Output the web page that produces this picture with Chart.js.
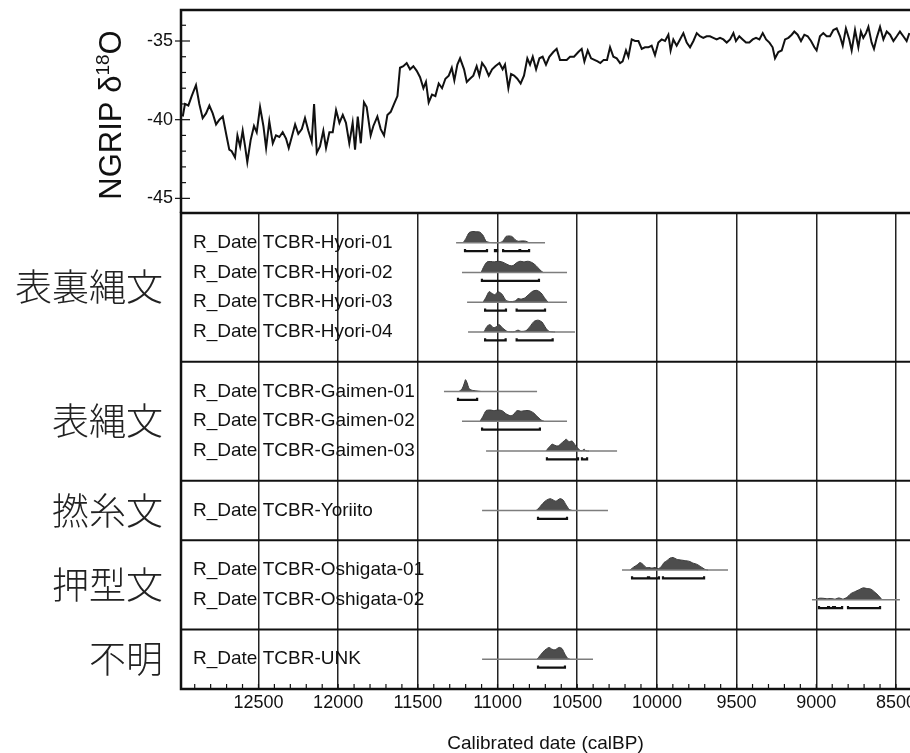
<!DOCTYPE html>
<html>
<head>
<meta charset="utf-8">
<script src="https://cdn.jsdelivr.net/npm/chart.js@4.4.0/dist/chart.umd.min.js"></script>
<style>
  html, body { margin: 0; padding: 0; background: #fff; }
  #wrap { position: relative; width: 910px; height: 753px; overflow: hidden; }
  #wrap canvas { position: absolute; left: 0; top: 0; }
</style>
</head>
<body>
<div id="wrap">
  <canvas id="ngripChart" width="910" height="753"></canvas>
  <canvas id="dateChart" width="910" height="753"></canvas>
</div>
<script>
// NGRIP d18O record (age calBP / permil)
const ngripAge = [
  12975, 12961, 12940, 12919, 12892, 12871, 12850, 12829, 12808, 12787,
  12766, 12745, 12724, 12699, 12683, 12668, 12647, 12632, 12615, 12599,
  12584, 12570, 12549, 12528, 12511, 12490, 12469, 12452, 12432, 12410,
  12390, 12369, 12348, 12327, 12310, 12291, 12270, 12250, 12228, 12208,
  12187, 12166, 12151, 12134, 12114, 12093, 12076, 12055, 12034, 12013,
  11992, 11971, 11951, 11930, 11909, 11894, 11877, 11858, 11838, 11821,
  11796, 11779, 11754, 11733, 11712, 11691, 11670, 11649, 11628, 11612,
  11591, 11570, 11549, 11528, 11507, 11486, 11465, 11449, 11432, 11411,
  11390, 11369, 11348, 11327, 11306, 11287, 11271, 11252, 11235, 11210,
  11193, 11173, 11152, 11131, 11114, 11097, 11076, 11055, 11034, 11014,
  10988, 10968, 10953, 10932, 10915, 10896, 10876, 10855, 10834, 10813,
  10796, 10779, 10758, 10737, 10717, 10696, 10675, 10650, 10629, 10608,
  10587, 10566, 10545, 10520, 10493, 10472, 10455, 10434, 10413, 10392,
  10372, 10355, 10334, 10313, 10294, 10273, 10252, 10231, 10215, 10194,
  10179, 10158, 10137, 10116, 10095, 10075, 10054, 10033, 10012, 9991,
  9970, 9949, 9928, 9914, 9897, 9876, 9855, 9834, 9813, 9792,
  9771, 9750, 9730, 9709, 9688, 9667, 9646, 9625, 9604, 9583,
  9562, 9541, 9520, 9504, 9483, 9462, 9441, 9420, 9399, 9378,
  9357, 9336, 9315, 9294, 9274, 9259, 9238, 9217, 9196, 9175,
  9154, 9138, 9117, 9096, 9075, 9054, 9033, 9012, 8998, 8977,
  8956, 8935, 8914, 8893, 8872, 8851, 8834, 8814, 8793, 8778,
  8757, 8736, 8720, 8705, 8688, 8673, 8653, 8638, 8621, 8600,
  8579, 8558, 8537, 8516, 8495, 8475, 8454, 8433, 8416
];
const ngripD18O = [
  -39.8, -39.0, -39.1, -38.5, -37.8, -39.0, -39.9, -39.6, -39.1, -39.6,
  -40.3, -40.0, -39.8, -41.1, -41.9, -42.0, -42.4, -41.0, -41.7, -40.7,
  -41.7, -42.7, -41.3, -40.4, -40.8, -39.2, -40.4, -41.8, -40.1, -41.5,
  -41.0, -41.1, -40.8, -41.2, -41.8, -41.1, -40.3, -40.9, -40.6, -39.9,
  -40.7, -41.4, -39.0, -42.1, -41.7, -40.7, -41.8, -40.8, -40.8, -39.4,
  -40.2, -39.7, -40.2, -41.5, -40.2, -41.9, -39.8, -41.5, -38.9, -39.2,
  -41.0, -40.4, -39.8, -40.6, -41.0, -39.7, -39.5, -39.0, -38.5, -36.7,
  -36.6, -36.4, -36.8, -36.6, -36.9, -37.3, -38.0, -37.6, -38.9, -38.4,
  -38.5, -37.7, -38.0, -37.4, -37.2, -36.7, -37.5, -36.5, -36.1, -36.8,
  -37.6, -37.4, -37.2, -36.6, -37.2, -36.4, -36.7, -37.2, -36.8, -36.6,
  -36.4, -36.8, -36.5, -38.0, -37.1, -37.2, -37.4, -37.7, -37.2, -36.1,
  -36.5, -36.0, -36.8, -36.1, -36.0, -36.5, -36.0, -35.7, -35.5, -36.2,
  -36.2, -36.2, -36.0, -36.0, -35.7, -35.5, -36.3, -35.6, -36.1, -36.2,
  -36.3, -36.4, -36.2, -36.2, -35.4, -36.0, -36.1, -36.4, -36.3, -35.6,
  -36.0, -34.9, -35.0, -35.0, -35.5, -35.4, -35.4, -35.3, -35.9, -35.1,
  -34.9, -35.0, -34.6, -35.6, -34.9, -35.3, -34.9, -34.5, -35.1, -35.4,
  -35.0, -34.5, -34.7, -34.8, -34.7, -34.7, -34.8, -34.9, -34.8, -34.9,
  -35.1, -34.9, -34.5, -35.0, -34.7, -34.9, -35.1, -35.1, -34.9, -34.8,
  -34.9, -34.5, -34.9, -35.1, -35.4, -36.1, -35.7, -35.6, -34.9, -34.8,
  -34.6, -34.4, -34.6, -35.0, -34.6, -34.7, -35.0, -35.4, -35.6, -34.7,
  -34.5, -34.7, -34.7, -34.3, -34.2, -34.7, -35.3, -34.2, -34.9, -35.6,
  -34.3, -35.4, -34.4, -34.8, -34.5, -34.1, -35.1, -35.5, -34.8, -34.1,
  -34.9, -34.4, -34.6, -35.0, -34.7, -34.4, -34.7, -35.0, -34.5
];
const d18oTicks = [-45, -40, -35];
const ageTicks = [12500, 12000, 11500, 11000, 10500, 10000, 9500, 9000, 8500];

// radiocarbon dates
const groupNames = ['表裏縄文', '表縄文', '撚糸文', '押型文', '不明'];
const sampleNames = ['TCBR-Hyori-01', 'TCBR-Hyori-02', 'TCBR-Hyori-03', 'TCBR-Hyori-04',
  'TCBR-Gaimen-01', 'TCBR-Gaimen-02', 'TCBR-Gaimen-03', 'TCBR-Yoriito',
  'TCBR-Oshigata-01', 'TCBR-Oshigata-02', 'TCBR-UNK'];
const sampleGroup = [0, 0, 0, 0, 1, 1, 1, 2, 3, 3, 4];
const calSpan = [[11260, 10702], [11223, 10564], [11191, 10564], [11185, 10514],
  [11336, 10752], [11223, 10564], [11072, 10250], [11097, 10307],
  [10219, 9554], [9027, 8475], [11097, 10401]];
const probAge = [
  [11216, 11198, 11179, 11160, 11135, 11110, 11091, 11072, 11047, 10984, 10965, 10947, 10928, 10909, 10890, 10871, 10846, 10821, 10802],
  [11103, 11085, 11066, 11041, 11022, 10997, 10972, 10947, 10922, 10903, 10878, 10859, 10834, 10809, 10784, 10758, 10733, 10714],
  [11091, 11072, 11053, 11034, 11016, 10997, 10972, 10947, 10922, 10890, 10871, 10853, 10828, 10802, 10777, 10752, 10727, 10702, 10683],
  [11085, 11066, 11047, 11028, 11010, 10991, 10966, 10940, 10896, 10871, 10853, 10821, 10796, 10771, 10746, 10721, 10696, 10677, 10639],
  [11242, 11223, 11210, 11201, 11191, 11179, 11160, 11135, 11103],
  [11110, 11091, 11072, 11047, 11022, 10997, 10972, 10947, 10922, 10903, 10878, 10853, 10828, 10802, 10777, 10752, 10727, 10708],
  [10696, 10677, 10658, 10639, 10620, 10601, 10583, 10570, 10551, 10532, 10514, 10495, 10482, 10470, 10457, 10445, 10426],
  [10758, 10740, 10721, 10696, 10670, 10652, 10633, 10608, 10589, 10570, 10551, 10532],
  [10169, 10144, 10125, 10106, 10087, 10068, 10049, 10031, 10012, 9993, 9974, 9955, 9937, 9918, 9899, 9874, 9849, 9824, 9798, 9773, 9748, 9723, 9698, 9679],
  [9002, 8983, 8958, 8933, 8908, 8883, 8858, 8832, 8807, 8782, 8757, 8732, 8707, 8682, 8657, 8632, 8607, 8588],
  [10752, 10733, 10714, 10696, 10677, 10658, 10639, 10614, 10595, 10577, 10558, 10545]
];
const probDensity = [
  [0, 0.35, 0.8, 0.9, 0.88, 0.85, 0.6, 0.12, 0.02, 0.02, 0.15, 0.5, 0.55, 0.5, 0.25, 0.12, 0.15, 0.12, 0],
  [0, 0.5, 0.85, 0.88, 0.85, 0.9, 0.85, 0.7, 0.55, 0.55, 0.8, 0.9, 0.85, 0.9, 0.8, 0.55, 0.2, 0],
  [0, 0.4, 0.85, 0.7, 0.6, 0.85, 0.65, 0.15, 0.05, 0.1, 0.3, 0.25, 0.35, 0.65, 0.9, 0.95, 0.75, 0.3, 0],
  [0, 0.45, 0.6, 0.35, 0.4, 0.6, 0.3, 0.05, 0.02, 0.15, 0.05, 0.1, 0.45, 0.85, 0.95, 0.8, 0.3, 0.05, 0],
  [0, 0.2, 0.6, 0.95, 0.7, 0.25, 0.1, 0.05, 0],
  [0, 0.4, 0.85, 0.9, 0.85, 0.9, 0.85, 0.6, 0.45, 0.5, 0.85, 0.8, 0.85, 0.85, 0.7, 0.4, 0.1, 0],
  [0, 0.3, 0.55, 0.45, 0.4, 0.6, 0.8, 0.95, 0.75, 0.8, 0.5, 0.2, 0.05, 0.02, 0.15, 0.02, 0],
  [0, 0.2, 0.5, 0.8, 0.95, 0.85, 0.75, 0.95, 0.85, 0.45, 0.1, 0],
  [0, 0.25, 0.4, 0.6, 0.45, 0.2, 0.2, 0.15, 0.2, 0.1, 0.25, 0.6, 0.75, 0.95, 1.0, 0.85, 0.8, 0.75, 0.7, 0.55, 0.45, 0.25, 0.05, 0],
  [0, 0.12, 0.12, 0.08, 0.1, 0.05, 0.15, 0.05, 0.2, 0.5, 0.65, 0.8, 0.95, 0.9, 0.85, 0.6, 0.3, 0],
  [0, 0.3, 0.6, 0.8, 0.95, 0.8, 0.75, 0.95, 0.85, 0.4, 0.05, 0]
];
const hpdRanges = [
  [[11204, 11066], [11016, 11003], [10965, 10862], [10858, 10802]],
  [[11098, 10740]],
  [[11078, 10947], [10880, 10702]],
  [[11078, 10949], [10880, 10654]],
  [[11248, 11128]],
  [[11097, 10734]],
  [[10690, 10495], [10470, 10438]],
  [[10746, 10564]],
  [[10156, 10056], [10049, 9987], [9962, 9704]],
  [[8983, 8926], [8920, 8895], [8883, 8838], [8801, 8600]],
  [[10746, 10577]]
];

// axis limits (x is reversed: old on the left)
const AGE_OLD = 12986, AGE_YOUNG = 8412;
const PEAK = 0.42, BAR = 0.28, HOOK = 0.07;
const LATIN = "'Liberation Sans', Arial, sans-serif";
Chart.defaults.font.family = LATIN;
Chart.defaults.color = '#111';

// row layout: each group gets its rows plus one spare slot
const rowPos = [], groupStart = [], groupCenter = [];
let cursor = 0;
groupNames.forEach((g, gi) => {
  const n = sampleGroup.filter(v => v === gi).length;
  groupStart.push(cursor);
  groupCenter.push(cursor + (n + 1) / 2);
  for (let k = 1; k <= n; k++) rowPos.push(cursor + k);
  cursor += n + 1;
});
const rowMax = cursor;

// no label overhang padding, the frame must sit exactly where the layout puts it
function fixVertical(width) {
  return s => { s.width = width; s.paddingTop = 0; s.paddingBottom = 0; };
}

// ---------- top panel ----------
const ngripDecor = {
  id: 'ngripDecor',
  afterDraw(chart) {
    const {ctx, chartArea: a} = chart;
    const y = chart.scales.y;
    ctx.save();
    ctx.strokeStyle = '#111';
    ctx.lineWidth = 2.5;
    ctx.beginPath();
    ctx.moveTo(a.left, a.bottom); ctx.lineTo(a.left, a.top); ctx.lineTo(a.right, a.top);
    ctx.stroke();
    ctx.lineWidth = 1.2;
    for (let v = Math.ceil(y.min); v <= y.max; v++) {
      const py = y.getPixelForValue(v);
      const major = v % 5 === 0;
      ctx.beginPath();
      ctx.moveTo(major ? a.left - 6 : a.left, py);
      ctx.lineTo(a.left + (major ? 9 : 5), py);
      ctx.stroke();
    }
    // rotated title with superscript
    const main = '31px ' + LATIN, sup = '19px ' + LATIN;
    ctx.fillStyle = '#111';
    ctx.font = main;
    const w1 = ctx.measureText('NGRIP δ').width;
    const w3 = ctx.measureText('O').width;
    ctx.font = sup;
    const w2 = ctx.measureText('18').width;
    const total = w1 + w2 + w3;
    ctx.translate(121, 115 + total / 2);
    ctx.rotate(-Math.PI / 2);
    ctx.textBaseline = 'alphabetic';
    ctx.font = main; ctx.fillText('NGRIP δ', 0, 0);
    ctx.font = sup; ctx.fillText('18', w1, -12);
    ctx.font = main; ctx.fillText('O', w1 + w2, 0);
    ctx.restore();
  }
};

new Chart(document.getElementById('ngripChart'), {
  type: 'line',
  data: {
    datasets: [{
      data: ngripAge.map((a, i) => ({x: a, y: ngripD18O[i]})),
      borderColor: '#111',
      borderWidth: 2,
      pointRadius: 0,
      tension: 0,
      fill: false
    }]
  },
  options: {
    responsive: false,
    animation: false,
    layout: {padding: {top: 10, bottom: 540, left: 0, right: 0}},
    plugins: {legend: {display: false}, tooltip: {enabled: false}},
    scales: {
      x: {type: 'linear', reverse: true, min: AGE_YOUNG, max: AGE_OLD, display: false},
      y: {
        min: -45.93, max: -33.03,
        afterBuildTicks: s => { s.ticks = d18oTicks.map(v => ({value: v})); },
        afterFit: fixVertical(181),
        grid: {display: false, drawTicks: false},
        border: {display: false},
        ticks: {padding: 8, color: '#111', font: {size: 18}}
      }
    }
  },
  plugins: [ngripDecor]
});

// ---------- bottom panel ----------
const datasets = [];
sampleNames.forEach((name, i) => {
  const row = rowPos[i];
  datasets.push({
    data: calSpan[i].map(a => ({x: a, y: row})),
    borderColor: '#7d7d7d', borderWidth: 1.4, pointRadius: 0, fill: false
  });
  datasets.push({
    data: probAge[i].map((a, j) => ({x: a, y: row - probDensity[i][j] * PEAK})),
    borderColor: '#3a3a3a', borderWidth: 1, pointRadius: 0, tension: 0.2,
    backgroundColor: '#4d4d4d', fill: {value: row}
  });
  const pts = [];
  hpdRanges[i].forEach(([a0, a1], k) => {
    if (k) pts.push({x: a0, y: null});
    pts.push({x: a0, y: row + BAR - HOOK}, {x: a0, y: row + BAR},
             {x: a1, y: row + BAR}, {x: a1, y: row + BAR - HOOK});
  });
  datasets.push({
    data: pts, borderColor: '#111', borderWidth: 2.2, pointRadius: 0, fill: false, spanGaps: false
  });
});

const dateDecor = {
  id: 'dateDecor',
  afterDatasetsDraw(chart) {
    const {ctx, chartArea: a} = chart;
    const x = chart.scales.x, y = chart.scales.y;
    ctx.save();
    // sample labels
    ctx.fillStyle = '#111';
    ctx.font = '19px ' + LATIN;
    ctx.textBaseline = 'middle';
    ctx.textAlign = 'left';
    sampleNames.forEach((n, i) => {
      ctx.fillText('R_Date ' + n, a.left + 12, y.getPixelForValue(rowPos[i]));
    });
    // group separators
    ctx.strokeStyle = '#111';
    ctx.lineWidth = 2;
    groupStart.slice(1).forEach(v => {
      const py = y.getPixelForValue(v);
      ctx.beginPath(); ctx.moveTo(a.left, py); ctx.lineTo(a.right, py); ctx.stroke();
    });
    // frame
    ctx.lineWidth = 2.5;
    ctx.beginPath();
    ctx.moveTo(a.right, a.top); ctx.lineTo(a.left, a.top);
    ctx.lineTo(a.left, a.bottom); ctx.lineTo(a.right, a.bottom);
    ctx.stroke();
    // minor ticks every 100 years
    ctx.lineWidth = 1.2;
    for (let v = Math.ceil(AGE_YOUNG / 100) * 100; v <= AGE_OLD; v += 100) {
      const px = x.getPixelForValue(v);
      ctx.beginPath(); ctx.moveTo(px, a.bottom); ctx.lineTo(px, a.bottom - 5); ctx.stroke();
    }
    ctx.restore();
  }
};

new Chart(document.getElementById('dateChart'), {
  type: 'line',
  data: {datasets},
  options: {
    responsive: false,
    animation: false,
    layout: {padding: {top: 213, bottom: 0, left: 0, right: 0}},
    plugins: {legend: {display: false}, tooltip: {enabled: false}},
    scales: {
      x: {
        type: 'linear', reverse: true, min: AGE_YOUNG, max: AGE_OLD,
        afterBuildTicks: s => { s.ticks = ageTicks.map(v => ({value: v})); },
        afterFit: s => { s.paddingLeft = 0; s.paddingRight = 0; s.height = 64; },
        grid: {color: '#222', lineWidth: 1.5, drawTicks: false},
        border: {display: false},
        ticks: {padding: 3, maxRotation: 0, autoSkip: false, color: '#111', font: {size: 18},
                callback: v => String(v)},
        title: {display: true, text: 'Calibrated date (calBP)', color: '#111',
                font: {size: 19, lineHeight: 1}, padding: 0}
      },
      y: {
        min: 0, max: rowMax, reverse: true,
        afterBuildTicks: s => { s.ticks = groupCenter.map(v => ({value: v})); },
        afterFit: fixVertical(181),
        grid: {display: false, drawTicks: false},
        border: {display: false},
        ticks: {padding: 18, color: '#222',
                font: {family: "'Noto Sans CJK JP', sans-serif", size: 37, weight: 300},
                callback: (v, i) => groupNames[i]}
      }
    }
  },
  plugins: [dateDecor]
});
</script>
</body>
</html>
